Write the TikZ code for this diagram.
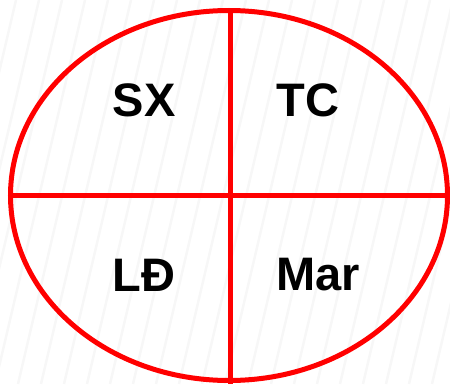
\documentclass[tikz,border=0pt]{standalone}
\usepackage{fontspec}
\setmainfont{Liberation Sans}
\usetikzlibrary{positioning}
\tikzset{
  stripe/.style={line width=2.5pt, draw=black!3},
  redline/.style={line width=5pt, draw=red},
  quarter/.style={font=\fontsize{47}{50}\selectfont\bfseries, text=black, inner sep=0pt}
}
\begin{document}
\begin{tikzpicture}[x=1pt, y=1pt]
    \useasboundingbox (0,0) rectangle (450,384);
    % faint diagonal stripes in the background
    \begin{scope}
        \clip (0,0) rectangle (450,384);
        \foreach \s in {-120,-97,...,460}
            \draw [stripe] (\s,0) -- (\s+90,384);
    \end{scope}
    % oval and the two dividers
    \coordinate (top) at (230.5,373.5);
    \coordinate (bottom) at (230.5,0);
    \coordinate (left) at (10.5,189);
    \coordinate (right) at (447.5,189);
    \draw [redline] (229,188.5) ellipse [x radius=218.5, y radius=185];
    \draw [redline] (top) -- (bottom);
    \draw [redline] (left) -- (right);
    % quarter labels
    \node (sx) [quarter] at (144,283.5) {SX};
    \node (tc) [quarter] at (308,283.5) {TC};
    \node (ld) [quarter] at (144,109) {LĐ};
    \node (mar) [quarter] at (318,109) {Mar};
\end{tikzpicture}
\end{document}
